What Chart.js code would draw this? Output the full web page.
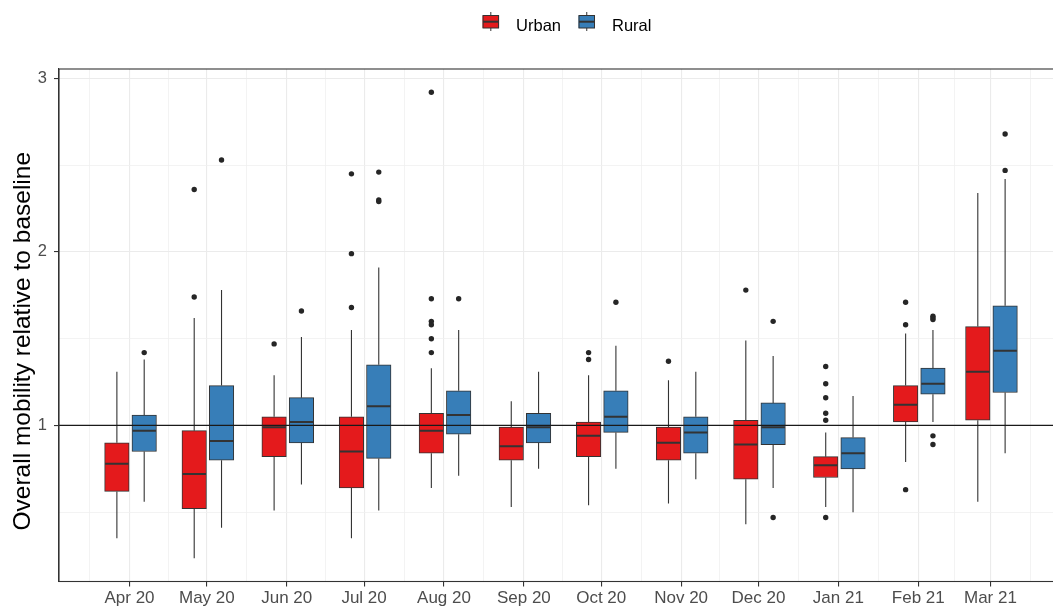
<!DOCTYPE html>
<html>
<head>
<meta charset="utf-8">
<script src="https://cdn.jsdelivr.net/npm/chart.js@4.4.1/dist/chart.umd.min.js"></script>
<style>
  html, body { margin: 0; padding: 0; background: #fff; overflow: hidden; }
  #wrap { position: relative; width: 1070px; height: 612px; }
</style>
</head>
<body>
<div id="wrap"><canvas id="chart"></canvas></div>
<script>
const FONT = "'Liberation Sans', Arial, Helvetica, sans-serif";

// Months shown on the x axis
const months = ['Apr 20', 'May 20', 'Jun 20', 'Jul 20', 'Aug 20', 'Sep 20',
                'Oct 20', 'Nov 20', 'Dec 20', 'Jan 21', 'Feb 21', 'Mar 21'];

// Urban areas: whisker ends, quartiles, median, outliers
const urbanLow    = [0.35, 0.235, 0.51, 0.35, 0.64, 0.53, 0.54, 0.55, 0.43, 0.53, 0.79, 0.56];
const urbanQ1     = [0.62, 0.52, 0.82, 0.64, 0.84, 0.80, 0.82, 0.80, 0.69, 0.70, 1.02, 1.03];
const urbanMedian = [0.78, 0.72, 0.99, 0.85, 0.97, 0.88, 0.94, 0.90, 0.89, 0.77, 1.12, 1.31];
const urbanQ3     = [0.90, 0.97, 1.05, 1.05, 1.07, 0.99, 1.02, 0.99, 1.03, 0.82, 1.23, 1.57];
const urbanHigh   = [1.31, 1.62, 1.29, 1.55, 1.33, 1.14, 1.29, 1.26, 1.49, 0.96, 1.53, 2.34];
const urbanOutliers = [
  [], [2.36, 1.74], [1.47], [2.45, 1.99, 1.68], [2.92, 1.73, 1.60, 1.58, 1.50, 1.42], [],
  [1.42, 1.38], [1.37], [1.78], [1.34, 1.24, 1.16, 1.07, 1.03, 0.47], [1.71, 1.58, 0.63], []
];

// Rural areas
const ruralLow    = [0.56, 0.41, 0.66, 0.51, 0.71, 0.75, 0.75, 0.69, 0.64, 0.50, 1.02, 0.84];
const ruralQ1     = [0.85, 0.80, 0.90, 0.81, 0.95, 0.90, 0.96, 0.84, 0.89, 0.75, 1.18, 1.19];
const ruralMedian = [0.97, 0.91, 1.02, 1.11, 1.06, 0.99, 1.05, 0.96, 0.99, 0.84, 1.24, 1.43];
const ruralQ3     = [1.06, 1.23, 1.16, 1.35, 1.20, 1.07, 1.20, 1.05, 1.13, 0.93, 1.33, 1.69];
const ruralHigh   = [1.38, 1.78, 1.51, 1.91, 1.55, 1.31, 1.46, 1.31, 1.40, 1.17, 1.55, 2.42];
const ruralOutliers = [
  [1.42], [2.53], [1.66], [2.46, 2.30, 2.29], [1.73], [],
  [1.71], [], [1.60, 0.47], [], [1.63, 1.62, 1.61, 0.94, 0.89], [2.68, 2.47]
];

// Labelled y values and the baseline reference
const yTickValues = [1, 2, 3];
const baseline = 1;

// ---- date axis in days since 1 Apr 2020 ----
const DAY = 864e5;
const origin = Date.UTC(2020, 3, 1);
const monthStart = k => (Date.UTC(2020, 3 + k, 1) - origin) / DAY;
const monthDay = months.map((_, i) => monthStart(i));

// dodge of the two groups around each month (in days)
const DODGE = 5.3, SHIFT = 0.4, HALF_BOX = 4.75;
const groups = [
  { label: 'Urban', color: '#E41A1C', lo: urbanLow, q1: urbanQ1, med: urbanMedian, q3: urbanQ3, hi: urbanHigh, out: urbanOutliers, off: SHIFT - DODGE },
  { label: 'Rural', color: '#377EB8', lo: ruralLow, q1: ruralQ1, med: ruralMedian, q3: ruralQ3, hi: ruralHigh, out: ruralOutliers, off: SHIFT + DODGE }
];

// axis limits with 5% expansion of the data extent
const xLo = monthDay[0] + groups[0].off - HALF_BOX;
const xHi = monthDay[monthDay.length - 1] + groups[1].off + HALF_BOX;
const xPad = (xHi - xLo) * 0.05;
const allY = groups.flatMap(g => [...g.lo, ...g.hi, ...g.out.flat()]);
const yLo = Math.min(...allY), yHi = Math.max(...allY);
const yPad = (yHi - yLo) * 0.05;

// major ticks at month starts, minor ones halfway between
const xTicks = [];
for (let k = -1; k < months.length; k++) {
  if (k >= 0) xTicks.push({ value: monthStart(k), label: months[k], isMajor: true });
  xTicks.push({ value: (monthStart(k) + monthStart(k + 1)) / 2, label: '', isMajor: false });
}
xTicks.sort((a, b) => a.value - b.value);
const yTicks = [];
for (let v = 0.5; v <= 3; v += 0.5) {
  yTicks.push({ value: v, label: yTickValues.includes(v) ? String(v) : '', isMajor: yTickValues.includes(v) });
}

const gridColor = c => (c.tick && c.tick.isMajor ? '#ebebeb' : '#f0f0f0');
const gridWidth = c => (c.tick && c.tick.isMajor ? 1.1 : 0.8);
const tickColor = c => (c.tick && c.tick.isMajor ? '#333333' : 'rgba(0,0,0,0)');

const datasets = [
  ...groups.map(g => ({
    type: 'bar',
    label: g.label,
    backgroundColor: g.color,
    borderColor: '#333333',
    borderWidth: 1,
    borderSkipped: false,
    barThickness: 24.5,
    grouped: false,
    data: months.map((_, i) => ({ x: monthDay[i] + g.off, y: [g.q1[i], g.q3[i]] }))
  })),
  ...groups.map(g => ({
    type: 'scatter',
    label: g.label + ' outliers',
    data: g.out.flatMap((vals, i) => vals.map(v => ({ x: monthDay[i] + g.off, y: v }))),
    pointRadius: 2.7,
    pointBackgroundColor: '#262626',
    pointBorderWidth: 0,
    showLine: false
  }))
];

// whiskers, medians, baseline and panel frame
const boxParts = {
  id: 'boxParts',
  afterDatasetsDraw(chart) {
    const { ctx, chartArea: a, scales: { y } } = chart;
    const seg = (x1, y1, x2, y2) => { ctx.beginPath(); ctx.moveTo(x1, y1); ctx.lineTo(x2, y2); ctx.stroke(); };
    ctx.save();
    ctx.beginPath();
    ctx.rect(a.left, a.top, a.right - a.left, a.bottom - a.top);
    ctx.clip();
    groups.forEach((g, d) => {
      chart.getDatasetMeta(d).data.forEach((bar, i) => {
        const cx = bar.x, half = bar.width / 2;
        ctx.strokeStyle = '#333333';
        ctx.lineWidth = 1.1;
        seg(cx, y.getPixelForValue(g.q3[i]), cx, y.getPixelForValue(g.hi[i]));
        seg(cx, y.getPixelForValue(g.q1[i]), cx, y.getPixelForValue(g.lo[i]));
        ctx.lineWidth = 2;
        const ym = y.getPixelForValue(g.med[i]);
        seg(cx - half + 0.5, ym, cx + half - 0.5, ym);
      });
    });
    ctx.strokeStyle = '#1a1a1a';
    ctx.lineWidth = 1.2;
    const yb = y.getPixelForValue(baseline);
    seg(a.left, yb, a.right, yb);
    ctx.restore();
    ctx.save();
    ctx.strokeStyle = '#333333';
    ctx.lineWidth = 1.1;
    ctx.strokeRect(a.left, a.top, a.right - a.left, a.bottom - a.top);
    ctx.restore();
  }
};

// legend with small boxplot keys, and the y axis title
const annotations = {
  id: 'annotations',
  afterDraw(chart) {
    const { ctx, chartArea: a } = chart;
    ctx.save();
    ctx.font = '16.5px ' + FONT;
    const keyW = 16.5, keyGap = 17, itemGap = 17.5;
    const widths = groups.map(g => ctx.measureText(g.label).width);
    const total = widths.reduce((s, w) => s + keyW + keyGap + w, 0) + itemGap * (groups.length - 1);
    let x = (a.left + a.right) / 2 + 6 - total / 2;
    const baseY = 31;
    groups.forEach((g, k) => {
      const cx = x + keyW / 2;
      ctx.strokeStyle = '#333333';
      ctx.lineWidth = 1;
      ctx.beginPath(); ctx.moveTo(cx, 12); ctx.lineTo(cx, 31); ctx.stroke();
      ctx.fillStyle = g.color;
      ctx.fillRect(x, 15.5, keyW, 12.5);
      ctx.strokeRect(x + 0.5, 15.5, keyW - 1, 12.5);
      ctx.lineWidth = 2;
      ctx.beginPath(); ctx.moveTo(x + 0.5, 21.7); ctx.lineTo(x + keyW - 0.5, 21.7); ctx.stroke();
      ctx.fillStyle = '#000000';
      ctx.textAlign = 'left';
      ctx.textBaseline = 'alphabetic';
      ctx.fillText(g.label, x + keyW + keyGap, baseY);
      x += keyW + keyGap + widths[k] + itemGap;
    });
    ctx.translate(a.left - 35.5, (a.top + a.bottom) / 2 + 16);
    ctx.rotate(-Math.PI / 2);
    ctx.font = '24.5px ' + FONT;
    ctx.textAlign = 'center';
    ctx.textBaseline = 'middle';
    ctx.fillText('Overall mobility relative to baseline', 0, 0);
    ctx.restore();
  }
};

new Chart(document.getElementById('chart'), {
  type: 'bar',
  data: { datasets },
  options: {
    responsive: true,
    maintainAspectRatio: false,
    animation: false,
    events: [],
    layout: { padding: { top: 69, right: 7, left: 0, bottom: 0 } },
    plugins: { legend: { display: false }, tooltip: { enabled: false } },
    scales: {
      x: {
        type: 'linear',
        offset: false,
        min: xLo - xPad,
        max: xHi + xPad,
        bounds: 'data',
        afterBuildTicks: s => { s.ticks = xTicks.map(t => ({ ...t })); },
        afterFit: s => { s.height = 30.5; },
        ticks: {
          autoSkip: false, maxRotation: 0, padding: 2,
          callback: (v, i, ticks) => ticks[i].label,
          font: { family: FONT, size: 17 }, color: '#4d4d4d'
        },
        grid: { offset: false, color: gridColor, lineWidth: gridWidth, tickColor, tickLength: 5, tickWidth: 1.1 },
        border: { display: true, color: '#333333', width: 1.1 }
      },
      y: {
        type: 'linear',
        min: yLo - yPad,
        max: yHi + yPad,
        bounds: 'data',
        afterBuildTicks: s => { s.ticks = yTicks.map(t => ({ ...t })); },
        afterFit: s => { s.width = 59; },
        ticks: {
          autoSkip: false, padding: 7,
          callback: (v, i, ticks) => ticks[i].label,
          font: { family: FONT, size: 16.5 }, color: '#4d4d4d'
        },
        grid: { color: gridColor, lineWidth: gridWidth, tickColor, tickLength: 5, tickWidth: 1.1 },
        border: { display: true, color: '#333333', width: 1.1 }
      }
    }
  },
  plugins: [boxParts, annotations]
});
</script>
</body>
</html>
